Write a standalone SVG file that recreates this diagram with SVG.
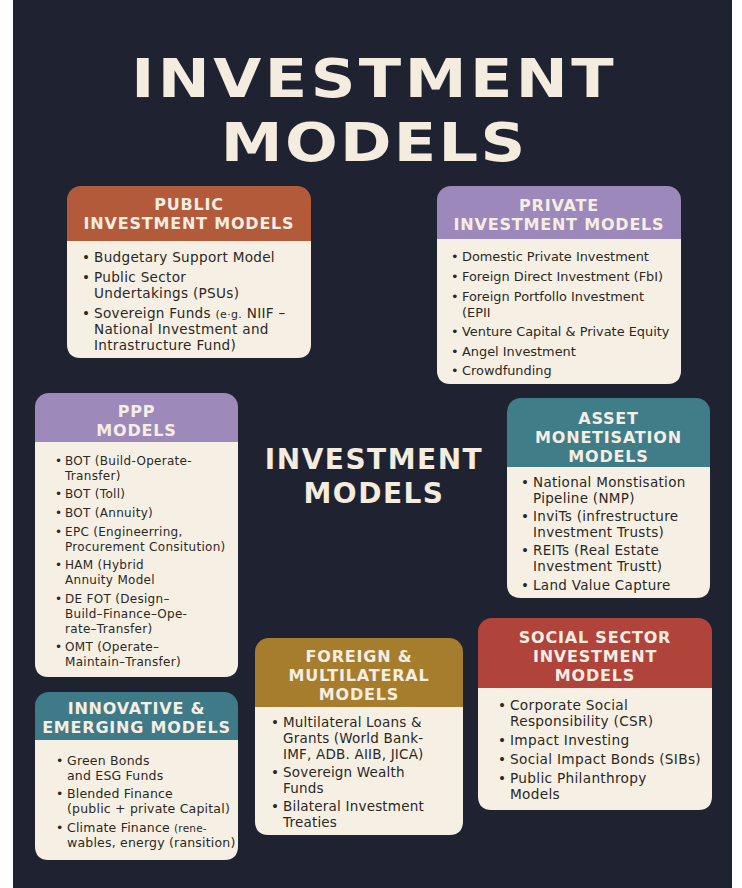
<svg xmlns="http://www.w3.org/2000/svg" width="742" height="888" viewBox="0 0 742 888">
<style>
.title{font-family:'DejaVu Sans','Liberation Sans',sans-serif;font-weight:bold;fill:#f3ecdf;text-anchor:middle}
.hd{font-family:'DejaVu Sans','Liberation Sans',sans-serif;font-weight:bold;font-size:16px;letter-spacing:0.8px;fill:#f6eee2;text-anchor:middle}
.b{font-family:'DejaVu Sans','Liberation Sans',sans-serif;fill:#2b2824}
.body{fill:#f6f0e4}
</style>
<rect x="0" y="0" width="742" height="888" fill="#ffffff"/>
<rect x="13" y="0" width="719" height="888" fill="#1f2331"/>

<g id="title">
<text class="title" font-size="54" letter-spacing="3" transform="translate(373,0) scale(1.15,1)"><tspan x="1" y="97">INVESTMENT</tspan><tspan x="1" y="161" letter-spacing="2">MODELS</tspan></text>
</g>

<g id="center-title">
<text class="title" font-size="28" letter-spacing="1.5"><tspan x="374" y="469">INVESTMENT</tspan><tspan x="374" y="503">MODELS</tspan></text>
</g>

<g id="public">
<rect x="67" y="186" width="244" height="172" rx="14" fill="#b35a3b"/>
<path class="body" d="M67,241 H311 V344 Q311,358 297,358 H81 Q67,358 67,344 Z"/>
<text class="hd"><tspan x="189" y="210">PUBLIC</tspan><tspan x="189" y="229">INVESTMENT MODELS</tspan></text>
<g class="b" font-size="13.6" letter-spacing="0.3">
<text><tspan x="82" y="262">•</tspan><tspan x="94" y="262">Budgetary Support Model</tspan></text>
<text><tspan x="82" y="282">•</tspan><tspan x="94" y="282">Public Sector</tspan><tspan x="94" y="298">Undertakings (PSUs)</tspan></text>
<text><tspan x="82" y="318">•</tspan><tspan x="94" y="318">Sovereign Funds <tspan font-size="11">(e·g.</tspan> NIIF –</tspan><tspan x="94" y="334">National Investment and</tspan><tspan x="94" y="350">Intrastructure Fund)</tspan></text>
</g>
</g>

<g id="private">
<rect x="437" y="186" width="244" height="198" rx="14" fill="#9c88ba"/>
<path class="body" d="M437,239 H681 V370 Q681,384 667,384 H451 Q437,384 437,370 Z"/>
<text class="hd"><tspan x="559" y="211">PRIVATE</tspan><tspan x="559" y="230">INVESTMENT MODELS</tspan></text>
<g class="b" font-size="12.9">
<text><tspan x="451" y="261">•</tspan><tspan x="462" y="261">Domestic Private Investment</tspan></text>
<text><tspan x="451" y="281">•</tspan><tspan x="462" y="281">Foreign Direct Investment (FbI)</tspan></text>
<text><tspan x="451" y="301">•</tspan><tspan x="462" y="301">Foreign Portfollo Investment</tspan><tspan x="462" y="317">(EPII</tspan></text>
<text><tspan x="451" y="336">•</tspan><tspan x="462" y="336">Venture Capital &amp; Private Equity</tspan></text>
<text><tspan x="451" y="356">•</tspan><tspan x="462" y="356">Angel Investment</tspan></text>
<text><tspan x="451" y="375">•</tspan><tspan x="462" y="375">Crowdfunding</tspan></text>
</g>
</g>

<g id="ppp">
<rect x="35" y="393" width="203" height="284" rx="14" fill="#9d89ba"/>
<path class="body" d="M35,442 H238 V663 Q238,677 224,677 H49 Q35,677 35,663 Z"/>
<text class="hd"><tspan x="136.5" y="417">PPP</tspan><tspan x="136.5" y="436">MODELS</tspan></text>
<g class="b" font-size="12" letter-spacing="0.3">
<text><tspan x="55" y="465">•</tspan><tspan x="65" y="465">BOT (Build-Operate-</tspan><tspan x="65" y="480">Transfer)</tspan></text>
<text><tspan x="55" y="498">•</tspan><tspan x="65" y="498">BOT (Toll)</tspan></text>
<text><tspan x="55" y="517">•</tspan><tspan x="65" y="517">BOT (Annuity)</tspan></text>
<text><tspan x="55" y="536">•</tspan><tspan x="65" y="536">EPC (Engineerring,</tspan><tspan x="65" y="551">Procurement Consitution)</tspan></text>
<text><tspan x="55" y="569">•</tspan><tspan x="65" y="569">HAM (Hybrid</tspan><tspan x="65" y="584">Annuity Model</tspan></text>
<text><tspan x="55" y="603">•</tspan><tspan x="65" y="603">DE FOT (Design–</tspan><tspan x="65" y="618">Build–Finance–Ope-</tspan><tspan x="65" y="633">rate–Transfer)</tspan></text>
<text><tspan x="55" y="651">•</tspan><tspan x="65" y="651">OMT (Operate–</tspan><tspan x="65" y="666">Maintain–Transfer)</tspan></text>
</g>
</g>

<g id="asset">
<rect x="507" y="398" width="203" height="200" rx="14" fill="#3f7d89"/>
<path class="body" d="M507,467 H710 V584 Q710,598 696,598 H521 Q507,598 507,584 Z"/>
<text class="hd"><tspan x="608.5" y="424">ASSET</tspan><tspan x="608.5" y="443">MONETISATION</tspan><tspan x="608.5" y="462">MODELS</tspan></text>
<g class="b" font-size="13.5" letter-spacing="0.3">
<text><tspan x="521" y="487">•</tspan><tspan x="533" y="487">National Monstisation</tspan><tspan x="533" y="503">Pipeline (NMP)</tspan></text>
<text><tspan x="521" y="521">•</tspan><tspan x="533" y="521">InviTs (infrestructure</tspan><tspan x="533" y="537">Investment Trusts)</tspan></text>
<text><tspan x="521" y="555">•</tspan><tspan x="533" y="555">REITs (Real Estate</tspan><tspan x="533" y="571">Investment Trustt)</tspan></text>
<text><tspan x="521" y="590">•</tspan><tspan x="533" y="590">Land Value Capture</tspan></text>
</g>
</g>

<g id="innovative">
<rect x="35" y="692" width="203" height="168" rx="14" fill="#3e7a87"/>
<path class="body" d="M35,740 H238 V846 Q238,860 224,860 H49 Q35,860 35,846 Z"/>
<text class="hd"><tspan x="136.5" y="714">INNOVATIVE &amp;</tspan><tspan x="136.5" y="733">EMERGING MODELS</tspan></text>
<g class="b" font-size="12.5" letter-spacing="0.2">
<text><tspan x="56" y="765">•</tspan><tspan x="67" y="765">Green Bonds</tspan><tspan x="67" y="780">and ESG Funds</tspan></text>
<text><tspan x="56" y="798">•</tspan><tspan x="67" y="798">Blended Finance</tspan><tspan x="67" y="813">(public + private Capital)</tspan></text>
<text><tspan x="56" y="832">•</tspan><tspan x="67" y="832">Climate Finance <tspan font-size="10.5">(rene-</tspan></tspan><tspan x="67" y="847">wables, energy (ransition)</tspan></text>
</g>
</g>

<g id="foreign">
<rect x="255" y="638" width="208" height="197" rx="14" fill="#a67d2d"/>
<path class="body" d="M255,707 H463 V821 Q463,835 449,835 H269 Q255,835 255,821 Z"/>
<text class="hd"><tspan x="359" y="662">FOREIGN &amp;</tspan><tspan x="359" y="681">MULTILATERAL</tspan><tspan x="359" y="700">MODELS</tspan></text>
<g class="b" font-size="13.5" letter-spacing="0.2">
<text><tspan x="271" y="727">•</tspan><tspan x="283" y="727">Multilateral Loans &amp;</tspan><tspan x="283" y="743">Grants (World Bank-</tspan><tspan x="283" y="759">IMF, ADB. AIIB, JICA)</tspan></text>
<text><tspan x="271" y="777">•</tspan><tspan x="283" y="777">Sovereign Wealth</tspan><tspan x="283" y="793">Funds</tspan></text>
<text><tspan x="271" y="811">•</tspan><tspan x="283" y="811">Bilateral Investment</tspan><tspan x="283" y="827">Treaties</tspan></text>
</g>
</g>

<g id="social">
<rect x="478" y="618" width="234" height="192" rx="14" fill="#b0433a"/>
<path class="body" d="M478,688 H712 V796 Q712,810 698,810 H492 Q478,810 478,796 Z"/>
<text class="hd"><tspan x="595" y="643">SOCIAL SECTOR</tspan><tspan x="595" y="662">INVESTMENT</tspan><tspan x="595" y="681">MODELS</tspan></text>
<g class="b" font-size="13.7" letter-spacing="0.3">
<text><tspan x="498" y="710">•</tspan><tspan x="510" y="710">Corporate Social</tspan><tspan x="510" y="726">Responsibility (CSR)</tspan></text>
<text><tspan x="498" y="745">•</tspan><tspan x="510" y="745">Impact Investing</tspan></text>
<text><tspan x="498" y="764">•</tspan><tspan x="510" y="764">Social Impact Bonds (SIBs)</tspan></text>
<text><tspan x="498" y="783">•</tspan><tspan x="510" y="783">Public Philanthropy</tspan><tspan x="510" y="799">Models</tspan></text>
</g>
</g>
</svg>
